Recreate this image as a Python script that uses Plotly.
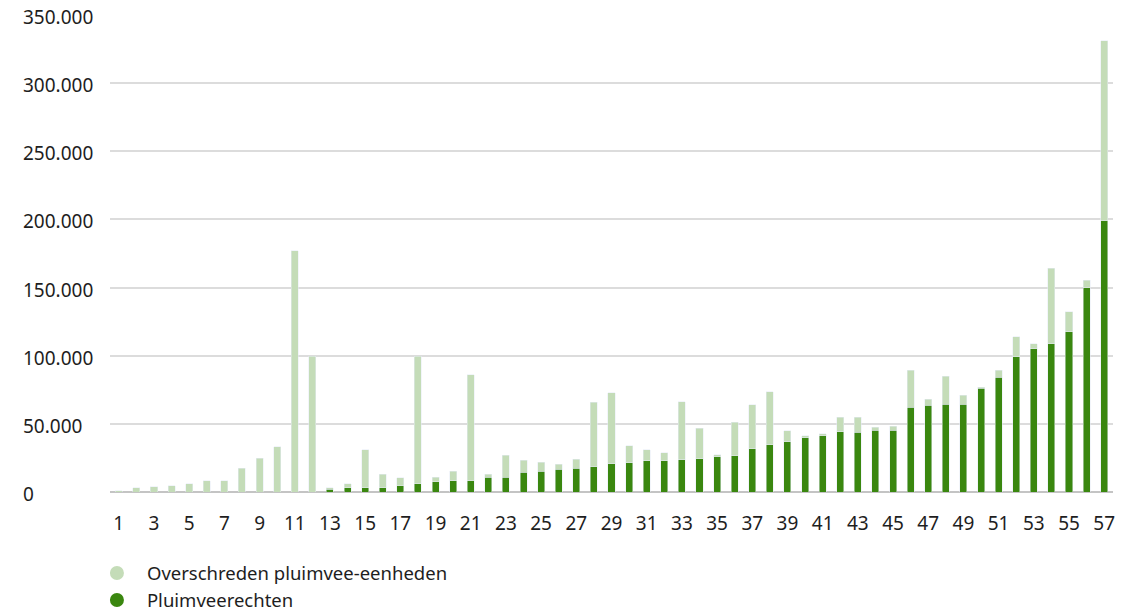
import plotly.graph_objects as go

categories = list(range(1, 58))

pluimveerechten = [
    0, 0, 0, 0, 0, 0, 0, 0, 0, 0,
    0, 0, 1900, 3300, 3100, 3100, 4500, 6000, 7400, 8100,
    8100, 11000, 11000, 14600, 15300, 16700, 17500, 18400, 20800, 21600,
    23000, 23000, 23800, 24500, 26000, 26700, 31900, 34800, 37000, 39900,
    41400, 44100, 44000, 45400, 45400, 62200, 63700, 64400, 64400, 76100,
    84100, 99400, 105200, 108900, 117600, 149700, 199000,
]

overschreden = [
    1000, 3100, 3800, 4500, 6000, 8100, 8100, 17500, 24600, 33200,
    177000, 99500, 1200, 2700, 28000, 10100, 5800, 93500, 3600, 7200,
    77900, 2200, 15800, 8600, 6500, 3600, 6400, 47300, 52200, 12500,
    8100, 5900, 42600, 22100, 1400, 24300, 32300, 38900, 8100, 1500,
    1500, 10900, 11000, 2200, 3000, 27000, 4300, 20400, 6600, 700,
    5100, 14600, 3700, 55400, 14600, 5800, 132000,
]

xtick_vals = list(range(1, 58, 2))
ytick_vals = [0, 50000, 100000, 150000, 200000, 250000, 300000, 350000]
ytick_text = ["0", "50.000", "100.000", "150.000", "200.000", "250.000", "300.000", "350.000"]

LIGHT = "#c4dcb8"
DARK = "#3a870f"
FONT = "Noto Sans"
TXT = "#1e1e1e"

fig = go.Figure()
fig.add_trace(go.Bar(x=categories, y=pluimveerechten, marker_color=DARK,
                     name="Pluimveerechten", showlegend=False))
fig.add_trace(go.Bar(x=categories, y=overschreden, marker_color=LIGHT,
                     name="Overschreden pluimvee-eenheden", showlegend=False))
# legend entries with circle symbols
fig.add_trace(go.Scatter(x=[None], y=[None], mode="markers",
                         marker=dict(symbol="circle", size=14, color=LIGHT),
                         name="Overschreden pluimvee-eenheden"))
fig.add_trace(go.Scatter(x=[None], y=[None], mode="markers",
                         marker=dict(symbol="circle", size=14, color=DARK),
                         name="Pluimveerechten"))

annotations = []
for v, t in zip(ytick_vals, ytick_text):
    annotations.append(dict(x=-0.0887, xref="paper", y=v, yref="y", text=t,
                            showarrow=False, xanchor="left", yanchor="middle", yshift=-2,
                            font=dict(family=FONT, size=19, color=TXT)))

fig.update_layout(
    width=1132, height=611,
    margin=dict(l=110, r=19, t=15, b=119, autoexpand=False),
    paper_bgcolor="white", plot_bgcolor="white",
    barmode="stack", bargap=0.6,
    font=dict(family=FONT, size=19, color=TXT),
    showlegend=True,
    legend=dict(orientation="v", x=-0.023, xanchor="left", y=-0.131, yanchor="top",
                traceorder="normal", font=dict(family=FONT, size=18.5, color=TXT),
                itemwidth=50, bgcolor="rgba(0,0,0,0)"),
    annotations=annotations,
)
fig.update_xaxes(range=[0.5, 57.5], tickmode="array", tickvals=xtick_vals,
                 ticks="outside", ticklen=14, tickcolor="rgba(0,0,0,0)",
                 showgrid=False, zeroline=False, showline=False,
                 tickfont=dict(family=FONT, size=19, color=TXT))
fig.update_yaxes(range=[0, 350000], tickmode="array", tickvals=ytick_vals,
                 showticklabels=False, showgrid=True, gridcolor="#dcdcdc", gridwidth=1.5,
                 zeroline=True, zerolinecolor="#c4c4c4", zerolinewidth=1.5, showline=False)

fig.write_html("out.html", config={"displayModeBar": False},
               post_script="document.body.style.margin='0';document.body.style.overflow='hidden';")
